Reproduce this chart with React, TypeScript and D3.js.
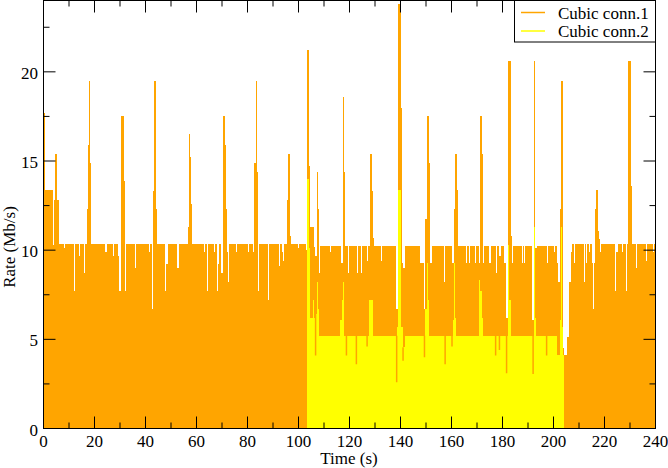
import React from "react";
import * as d3 from "d3";

// Cubic conn.1: [time (s), rate (Mb/s)], step-after samples
const conn1: [number, number][] = [
  [0, 17.7], [0.5, 13.4], [3.8, 10.3], [4.2, 12.8], [4.6, 15.4], [5.4, 12.8], [5.9, 10.35],
  [8.0, 10.1], [8.4, 10.35],
  [11.9, 7.7], [12.3, 10.35],
  [13.8, 9.7], [14.2, 10.35],
  [15.7, 8.7], [16.1, 10.35],
  [16.9, 12.3], [17.3, 15.9], [17.8, 19.5], [18.3, 14.9], [18.7, 10.35],
  [24.3, 9.9], [25.0, 10.35],
  [27.3, 9.7], [27.7, 10.35],
  [29.4, 9.7], [29.8, 7.7], [30.2, 9.2], [30.5, 17.5], [31.4, 13.9], [31.8, 7.7], [32.2, 10.35],
  [35.8, 9.0], [36.2, 10.35],
  [41.2, 9.9], [41.6, 10.35],
  [42.4, 9.3], [42.7, 6.7], [43.1, 13.3], [43.5, 19.5], [44.3, 12.3], [44.7, 10.35],
  [47.8, 7.7], [48.2, 9.2], [49.0, 10.35],
  [52.2, 9.0], [53.0, 10.35],
  [56.5, 11.3], [56.9, 16.5], [57.6, 15.2], [58.0, 12.6], [58.4, 10.35],
  [63.1, 9.9], [63.5, 10.35],
  [64.3, 7.7], [64.7, 10.35],
  [66.7, 9.9], [67.1, 10.35],
  [68.2, 7.7], [68.6, 9.2], [69.0, 10.35],
  [69.8, 8.7], [70.2, 17.5], [71.0, 15.9], [71.4, 12.3], [71.8, 9.9], [72.2, 8.2], [72.6, 10.35],
  [75.3, 9.9], [75.7, 10.35],
  [80.0, 9.9], [80.4, 10.35],
  [82.0, 9.9], [82.4, 10.2], [82.7, 14.9], [83.3, 19.5], [83.8, 14.4], [84.3, 7.7], [84.7, 10.35],
  [88.2, 7.2], [88.6, 10.35],
  [92.2, 9.1], [92.9, 10.35],
  [93.7, 9.9], [94.1, 9.4], [94.5, 10.35],
  [95.3, 12.8], [95.7, 15.4], [96.5, 10.8], [96.9, 10.35],
  [97.3, 10.1], [97.6, 10.35],
  [99.7, 10.1], [100.0, 10.35],
  [103.1, 10.0], [103.5, 21.2], [104.3, 14.7], [104.7, 11.3], [105.9, 10.2], [106.3, 9.7],
  [107.1, 14.4], [107.8, 12.3], [108.2, 8.7], [108.6, 10.25],
  [112.2, 9.9], [112.6, 10.25],
  [116.5, 9.3], [117.3, 18.6], [118.0, 14.4], [118.4, 10.25],
  [119.4, 8.7], [119.8, 10.25],
  [122.9, 8.7], [123.3, 10.25],
  [124.5, 8.7], [124.9, 10.25],
  [126.9, 9.4], [127.3, 10.25],
  [128.0, 10.7], [128.2, 15.4], [129.0, 13.3], [129.4, 10.7], [129.8, 10.25],
  [132.4, 9.4], [132.8, 10.25],
  [138.4, 6.7], [139.2, 23.8], [140.0, 18.0], [140.4, 9.3], [140.8, 9.0], [141.6, 10.25],
  [147.8, 9.3], [149.4, 6.7], [149.8, 11.75], [150.2, 17.5], [151.0, 14.9], [151.4, 9.3], [152.2, 10.25],
  [156.9, 8.2], [157.6, 10.25],
  [160.0, 9.3], [160.8, 12.3], [161.2, 15.4], [162.0, 13.4], [162.4, 10.8], [162.7, 10.25],
  [165.5, 9.3], [165.9, 10.25],
  [167.0, 9.3], [167.4, 10.25],
  [169.4, 9.3], [169.8, 10.25],
  [170.6, 9.3], [171.0, 17.5], [171.8, 15.4], [172.2, 12.0], [172.5, 9.3], [172.9, 10.25],
  [174.9, 9.3], [175.3, 10.25],
  [177.3, 8.7], [177.7, 10.25],
  [178.8, 9.7], [179.6, 10.25],
  [180.4, 9.3], [181.2, 6.2], [182.0, 20.6], [183.5, 10.8], [183.9, 9.3], [184.3, 10.25],
  [187.5, 9.3], [187.9, 10.25],
  [188.6, 9.3], [189.0, 10.25],
  [191.4, 6.1], [192.2, 20.6], [192.9, 10.1], [193.7, 10.25],
  [197.5, 9.3], [197.9, 10.25],
  [200.2, 9.9], [200.6, 10.25],
  [201.4, 9.3], [201.6, 8.2], [202.4, 6.1], [202.7, 12.3], [203.1, 19.5], [203.9, 4.5],
  [204.3, 4.1], [205.1, 5.15], [205.9, 8.2], [206.7, 9.9], [207.1, 10.35],
  [208.0, 9.3], [208.4, 10.35],
  [212.0, 8.2], [212.4, 10.35],
  [212.9, 9.3], [213.3, 10.35],
  [214.1, 9.9], [214.5, 10.35],
  [215.1, 9.3], [215.5, 6.7], [215.9, 9.3], [216.1, 12.3], [216.5, 13.4], [217.3, 12.4],
  [217.6, 11.05], [218.0, 10.6], [218.4, 9.9], [218.8, 10.35],
  [224.3, 7.7], [224.7, 9.9], [225.1, 10.35],
  [226.9, 9.9], [227.3, 10.35],
  [228.4, 7.7], [228.8, 10.35],
  [229.4, 20.6], [230.2, 13.6], [230.6, 10.35],
  [232.4, 9.0], [232.8, 10.35],
  [236.3, 9.4], [236.7, 10.35],
  [239.2, 9.9], [239.6, 10.35], [240, 10.35],
];

// Cubic conn.2: [time (s), rate (Mb/s)], step-after samples
const conn2: [number, number][] = [
  [103.5, 14.0], [104.3, 10.1], [104.7, 6.2], [105.5, 7.2], [105.9, 6.2], [106.7, 6.4],
  [107.1, 8.2], [107.5, 6.7], [108.2, 5.2],
  [116.1, 6.1], [116.9, 7.2], [117.3, 8.2], [118.0, 5.2],
  [127.8, 7.2], [129.4, 5.2],
  [138.8, 5.7], [139.2, 13.4], [140.0, 5.7], [140.8, 4.55], [141.6, 5.2],
  [149.8, 6.7], [150.2, 9.3], [150.6, 7.2], [151.0, 5.2],
  [160.4, 6.1], [160.8, 9.3], [161.2, 6.2], [161.6, 5.2],
  [170.6, 8.3], [171.0, 7.7], [171.8, 6.2], [172.5, 5.2],
  [182.0, 10.3], [182.7, 7.2], [183.5, 5.2],
  [192.2, 11.3], [192.9, 6.2], [193.3, 5.2],
  [201.4, 4.1], [202.7, 6.1], [203.1, 11.3], [203.5, 5.7], [203.9, 4.1], [204.3, 0],
];

// Short downward excursions of conn.1 visible through conn.2: [time, low rate]
const conn1Dips: [number, number][] = [
  [106.7, 4.1], [118.8, 4.1], [122.7, 3.6], [126.9, 4.6], [138.5, 2.6], [141.0, 3.8],
  [149.4, 4.0], [157.5, 3.6], [160.2, 4.6], [177.3, 4.1], [178.8, 4.4], [181.6, 3.1],
  [192.0, 3.06], [197.3, 4.1],
];

const xMajor = [0, 20, 40, 60, 80, 100, 120, 140, 160, 180, 200, 220, 240];
const xMinor = [10, 30, 50, 70, 90, 110, 130, 150, 170, 190, 210, 230];
const yMajor = [0, 5, 10, 15, 20];
const yMinor = [2.5, 7.5, 12.5, 17.5, 22.5];
const seriesNames = ["Cubic conn.1", "Cubic conn.2"];
const colors = ["#FFA500", "#FFFF00"];

const W = 668, H = 468;
const L = 43.5, R = 655.5, T = 0.5, B = 428.5;

export default function App() {
  const x = d3.scaleLinear().domain([0, 240]).range([L, R]);
  const y = d3.scaleLinear().domain([0, 24]).range([B, T]);
  const area = d3
    .area<[number, number]>()
    .curve(d3.curveStepAfter)
    .x((d) => x(d[0]))
    .y0(y(0))
    .y1((d) => y(d[1]));
  const bis = d3.bisector((d: [number, number]) => d[0]).right;
  const conn2At = (t: number) => {
    const i = bis(conn2, t) - 1;
    return i >= 0 ? conn2[i][1] : 0;
  };
  const font = "'Liberation Serif', 'Times New Roman', serif";
  const fs = 17;
  const maj = 12, mnr = 6;

  return (
    <svg width={W} height={H} style={{ position: "absolute", left: 0, top: 0, background: "#fff" }}>
      <defs>
        <clipPath id="plot">
          <rect x={L} y={T} width={R - L} height={B - T} />
        </clipPath>
      </defs>
      <g clipPath="url(#plot)">
        <path d={area(conn1) || ""} fill={colors[0]} shapeRendering="crispEdges" />
        <path d={area(conn2) || ""} fill={colors[1]} shapeRendering="crispEdges" />
        {conn1Dips.map((d, i) => (
          <line key={i} x1={x(d[0])} x2={x(d[0])} y1={y(d[1])} y2={y(conn2At(d[0]))}
            stroke={colors[0]} strokeWidth={1.5} />
        ))}
      </g>
      {/* ticks */}
      <g stroke="#000" strokeWidth={1}>
        {xMajor.map((t) => (
          <g key={"xM" + t}>
            <line x1={x(t)} x2={x(t)} y1={B} y2={B - maj} />
            <line x1={x(t)} x2={x(t)} y1={T} y2={T + maj} />
          </g>
        ))}
        {xMinor.map((t) => (
          <g key={"xm" + t}>
            <line x1={x(t)} x2={x(t)} y1={B} y2={B - mnr} />
            <line x1={x(t)} x2={x(t)} y1={T} y2={T + mnr} />
          </g>
        ))}
        {yMajor.map((v) => (
          <g key={"yM" + v}>
            <line x1={L} x2={L + maj} y1={y(v)} y2={y(v)} />
            <line x1={R} x2={R - maj} y1={y(v)} y2={y(v)} />
          </g>
        ))}
        {yMinor.map((v) => (
          <g key={"ym" + v}>
            <line x1={L} x2={L + mnr} y1={y(v)} y2={y(v)} />
            <line x1={R} x2={R - mnr} y1={y(v)} y2={y(v)} />
          </g>
        ))}
      </g>
      <rect x={L} y={T} width={R - L} height={B - T} fill="none" stroke="#000" strokeWidth={1} />
      {/* tick labels */}
      <g fontFamily={font} fontSize={fs} fill="#000">
        {xMajor.map((t) => (
          <text key={"xl" + t} x={x(t)} y={446.5} textAnchor="middle">{t}</text>
        ))}
        {yMajor.map((v) => (
          <text key={"yl" + v} x={38} y={y(v) + 7} textAnchor="end">{v}</text>
        ))}
        <text x={349} y={464} textAnchor="middle">Time (s)</text>
        <text transform={`translate(15,247) rotate(-90)`} textAnchor="middle">Rate (Mb/s)</text>
      </g>
      {/* legend */}
      <g>
        <rect x={514.5} y={T} width={R - 514.5} height={41.5} fill="#fff" stroke="#000" strokeWidth={1} />
        {seriesNames.map((n, i) => (
          <g key={n}>
            <line x1={521} x2={545} y1={12.5 + i * 18.5} y2={12.5 + i * 18.5} stroke={colors[i]} strokeWidth={1.5} />
            <text x={558} y={18.5 + i * 18} fontFamily={font} fontSize={fs} fill="#000">{n}</text>
          </g>
        ))}
      </g>
    </svg>
  );
}
